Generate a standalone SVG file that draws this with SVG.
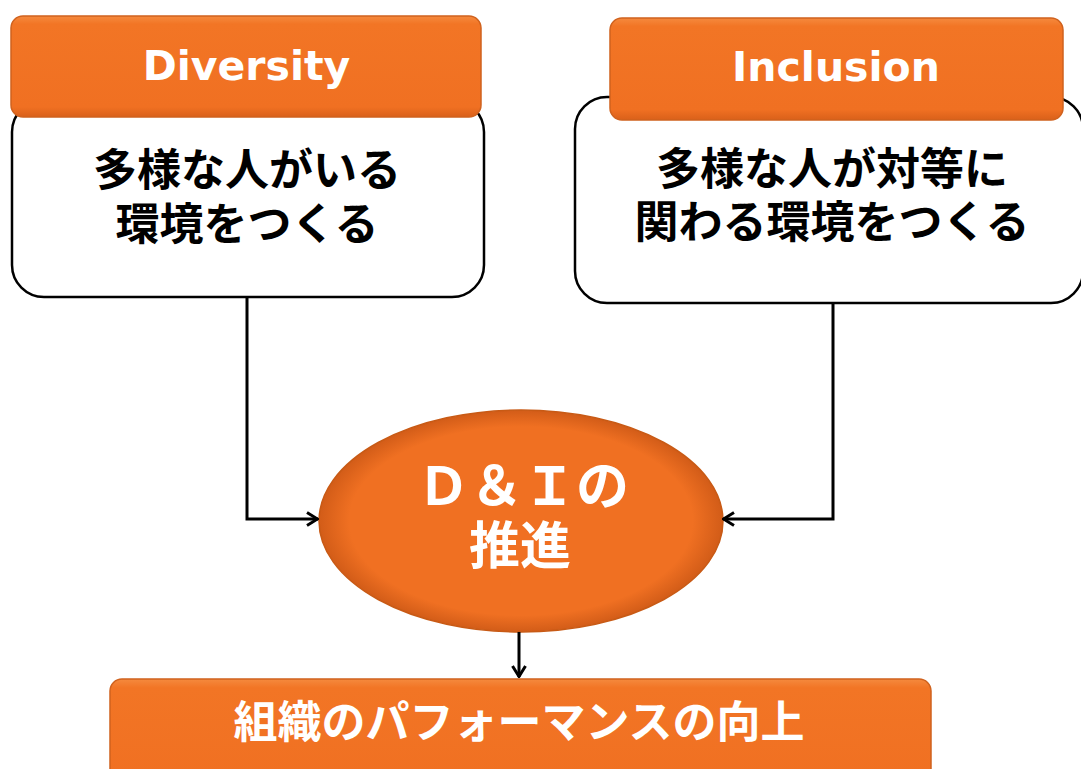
<svg xmlns="http://www.w3.org/2000/svg" width="1081" height="769" viewBox="0 0 1081 769">
<defs>
<linearGradient id="og" x1="0" y1="0" x2="0" y2="1">
<stop offset="0" stop-color="#F58A3E"/>
<stop offset="0.08" stop-color="#F27525"/>
<stop offset="0.9" stop-color="#F07022"/>
<stop offset="1" stop-color="#D9601A"/>
</linearGradient>
<radialGradient id="eg" cx="0.5" cy="0.5" r="0.5">
<stop offset="0.85" stop-color="#F07022"/>
<stop offset="1" stop-color="#D25C18"/>
</radialGradient>
<marker id="arr" viewBox="0 0 14 16" refX="13" refY="8" markerWidth="14" markerHeight="16" markerUnits="userSpaceOnUse" orient="auto">
<path d="M2,1.5 L12.5,8 L2,14.5" fill="none" stroke="#000" stroke-width="3"/>
</marker>
</defs>
<style>
.hdr{fill:url(#og);stroke:#D0621E;stroke-width:1.5}
.box{fill:#fff;stroke:#000;stroke-width:2.5}
.en{font-family:"DejaVu Sans","Liberation Sans",sans-serif;font-weight:bold;fill:#fff;text-anchor:middle}
.jp{font-family:"Noto Sans CJK JP",sans-serif;font-weight:bold;text-anchor:middle}
.blk{fill:#000;font-size:44px}
.wht{fill:#fff}
.conn{fill:none;stroke:#000;stroke-width:3}
</style>
<rect width="1081" height="769" fill="#fff"/>
<g id="diversity">
<rect class="box" x="12" y="100" width="472" height="197" rx="32"/>
<rect class="hdr" x="11" y="16" width="470" height="101" rx="12"/>
<text class="en" x="246.5" y="80" font-size="41">Diversity</text>
<text class="jp blk"><tspan x="247" y="186">多様な人がいる</tspan><tspan x="247" y="240">環境をつくる</tspan></text>
</g>
<g id="inclusion">
<rect class="box" x="575" y="97" width="508" height="206" rx="32"/>
<rect class="hdr" x="610" y="18" width="453" height="102" rx="12"/>
<text class="en" x="836" y="81" font-size="41">Inclusion</text>
<text class="jp blk"><tspan x="832" y="185">多様な人が対等に</tspan><tspan x="832" y="238">関わる環境をつくる</tspan></text>
</g>
<g id="dni">
<ellipse cx="521" cy="521" rx="202" ry="111" fill="url(#eg)" stroke="#C85A15" stroke-width="1.5"/>
<text class="jp wht"><tspan x="523" y="505" font-size="53">Ｄ＆Ｉの</tspan><tspan x="520" y="564" font-size="51">推進</tspan></text>
</g>
<g id="performance">
<rect class="hdr" x="110" y="679" width="821" height="110" rx="12"/>
<text class="jp wht" x="519" y="738" font-size="44">組織のパフォーマンスの向上</text>
</g>
<g id="connectors">
<path class="conn" d="M247,297 V519 H318" marker-end="url(#arr)"/>
<path class="conn" d="M833,303 V519 H723" marker-end="url(#arr)"/>
<path class="conn" d="M519,632 V677" marker-end="url(#arr)"/>
</g>
</svg>
